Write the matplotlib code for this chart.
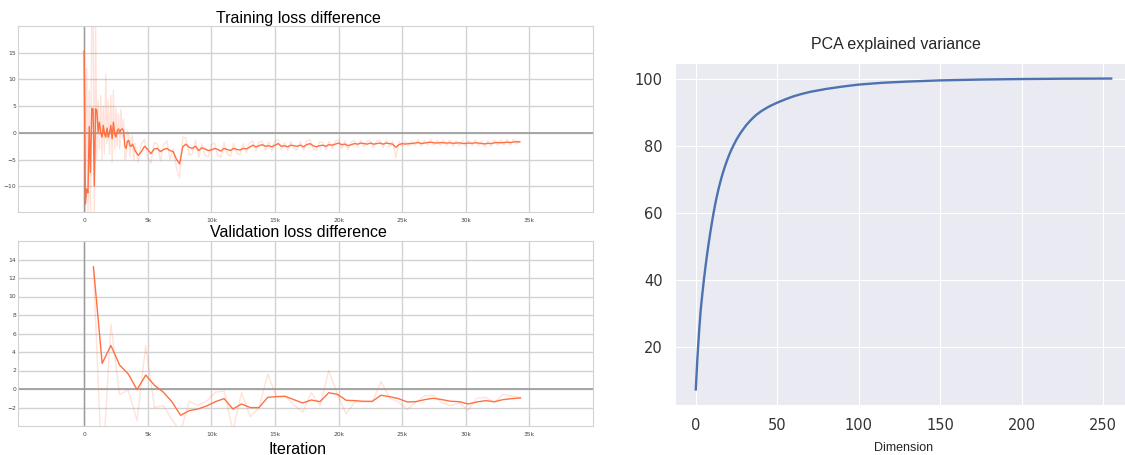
import numpy as np
import matplotlib
matplotlib.use("Agg")
import matplotlib.pyplot as plt
import seaborn as sns

# ---- training loss difference (tensorboard export) ----
train_iter = np.concatenate([np.arange(0, 4001, 100), np.arange(4250, 34251, 250)])

train_smooth = [
    15.3, -13.3, -10.5, -11.2, 1.2, -7.4, 4.6, 4.5, -9.9, 4.5,
    4.2, 0.2, 2.0, 0.1, -0.8, 1.4, -0.2, -0.8, 0.9, -0.8,
    0.1, 1.4, -1.1, 2.0, -0.2, -0.8, 0.4, 0.75, 0.1, 0.6,
    0.75, 0.4, -2.4, -2.9, -1.6, -1.4, -2.4, -2.5, -2.1, -2.7,
    -3.3,
    -4.2, -3.5, -2.5, -3.1, -3.9, -3.0, -2.9, -3.5, -3.1, -2.9,
    -3.3, -3.5, -4.9, -5.8, -2.6, -2.1, -2.7, -2.9, -2.5, -3.3,
    -2.8, -3.0, -3.3, -3.2, -2.9, -3.1, -3.4, -2.9, -3.1, -3.3,
    -2.9, -3.1, -3.2, -2.9, -3.0, -2.7, -2.3, -2.6, -2.4, -2.2,
    -2.5, -2.4, -2.6, -2.3, -2.0, -2.5, -2.4, -2.6, -2.3, -2.4,
    -2.5, -2.3, -2.6, -2.2, -2.0, -2.4, -2.6, -2.4, -2.3, -2.5,
    -2.2, -2.3, -2.1, -1.9, -2.2, -2.1, -2.4, -2.2, -2.0, -2.1,
    -1.9, -2.0, -2.1, -1.9, -2.1, -2.0, -1.9, -2.1, -1.9, -2.0,
    -2.1, -2.7, -2.2, -2.0, -2.1, -2.0, -2.0, -1.9, -1.8, -2.0,
    -1.9, -1.8, -1.75, -1.85, -1.9, -1.8, -1.85, -1.9, -1.85, -1.95,
    -1.9, -1.85, -2.0, -1.95, -1.9, -1.95, -1.85, -1.9, -2.0, -2.05,
    -1.95, -2.0, -1.85, -1.8, -1.85, -1.8, -1.75, -1.8, -1.7, -1.65,
    -1.7,
]

train_raw = [
    15.3, -16, 12, -15, 8, -17, 22, 24, -16, 21,
    -5, 6, -3, 7, -5, 5, -4, 11, -2, 6,
    -4, 7, -5.5, 8, -3, 4.5, -2.5, 3.5, -3, 4.4,
    -1, 2.5, -5, -4.5, 0.5, -0.5, -4.5, -1, -0.5, -5.2,
    -2,
    -5.5, -2.0, -1.2, -4.8, -5.6, -1.8, -2.0, -5.2, -2.2, -1.5,
    -4.9, -3.0, -6.5, -8.4, -0.8, -1.0, -4.2, -3.9, -1.4, -4.6,
    -2.0, -4.1, -4.5, -2.2, -1.9, -4.2, -4.6, -1.8, -3.9, -4.4,
    -2.0, -3.8, -4.1, -2.0, -3.7, -1.9, -1.5, -3.4, -1.7, -1.6,
    -3.3, -1.7, -3.4, -1.5, -1.3, -3.2, -1.8, -3.3, -1.6, -3.0,
    -3.2, -1.6, -3.3, -1.5, -1.2, -3.0, -3.3, -1.7, -1.8, -3.2,
    -1.6, -2.9, -1.5, -1.3, -2.9, -1.5, -3.1, -1.7, -1.4, -2.7,
    -1.4, -2.6, -1.5, -1.4, -2.7, -1.5, -1.4, -2.7, -1.3, -2.6,
    -1.5, -4.7, -1.6, -2.5, -1.5, -2.5, -1.5, -2.4, -1.2, -2.5,
    -1.4, -2.3, -1.2, -2.3, -1.4, -2.3, -1.3, -2.4, -1.3, -2.5,
    -1.4, -2.4, -1.5, -2.5, -1.4, -2.4, -1.3, -2.4, -1.5, -2.6,
    -1.4, -2.5, -1.3, -2.3, -1.3, -2.3, -1.2, -2.3, -1.2, -2.1,
    -1.5,
]

# ---- validation loss difference ----
val_iter = np.linspace(730, 34300, 50)

val_smooth = [
    13.2, 2.77, 4.71, 2.59, 1.62, -0.07, 1.51, 0.40, -0.32, -1.37,
    -2.84, -2.34, -2.16, -1.83, -1.37, -1.04, -2.16, -1.62, -2.01, -2.01,
    -0.90, -0.83, -0.79, -1.15, -1.51, -1.19, -1.37, -0.40, -0.58, -1.22,
    -1.26, -1.33, -1.33, -0.68, -0.83, -1.04, -1.40, -1.37, -1.15, -1.00,
    -1.15, -1.33, -1.37, -1.62, -1.40, -1.26, -1.37, -1.15, -1.04, -0.97,
]

val_raw = [
    13.2, -9.5, 7.0, -0.6, -0.1, -3.4, 4.7, -2.0, -1.8, -3.3,
    -4.6, -1.3, -1.8, -1.3, -0.35, -0.2, -4.5, -0.4, -3.0, -2.0,
    1.6, -0.8, -0.8, -1.7, -2.5, -0.4, -1.8, 2.0, -0.6, -2.7,
    -1.4, -1.4, -1.4, 0.8, -1.0, -1.4, -2.2, -1.4, -0.75, -0.65,
    -1.5, -1.8, -1.5, -2.3, -1.0, -0.9, -1.5, -0.6, -0.75, -0.9,
]

# ---- PCA cumulative explained variance ----
pca_dim = [0, 1, 2, 3, 4, 5, 6, 7, 8, 9, 10, 11, 12, 13, 14, 15, 16, 17, 18, 19,
           20, 21, 22, 23, 25, 27, 29, 31, 33, 35, 37, 40, 43, 46, 50, 55, 60, 65,
           70, 80, 90, 100, 115, 130, 150, 175, 200, 225, 255]
pca_var = [7.2, 16.5, 24.3, 30.8, 35.6, 40.0, 44.0, 47.7, 51.1, 54.3,
           57.3, 60.1, 62.7, 65.0, 67.1, 69.0, 70.8, 72.4, 73.9, 75.3,
           76.6, 77.8, 78.9, 79.9, 81.8, 83.4, 84.8, 86.1, 87.2, 88.2,
           89.1, 90.2, 91.1, 91.9, 92.8, 93.8, 94.7, 95.4, 96.0, 96.9,
           97.6, 98.2, 98.75, 99.1, 99.45, 99.7, 99.85, 99.95, 100.0]

x_ticks = [0, 5000, 10000, 15000, 20000, 25000, 30000, 35000]
x_ticklabels = ["0", "5k", "10k", "15k", "20k", "25k", "30k", "35k"]

orange = "#ff7043"
W, H = 1125, 455

fig = plt.figure(figsize=(11.25, 4.55), dpi=100)


def tb_axes(rect, yticks, ylim):
    ax = fig.add_axes(rect)
    ax.set_xlim(-5200, 40000)
    ax.set_ylim(*ylim)
    ax.set_xticks(x_ticks)
    ax.set_xticklabels(x_ticklabels)
    ax.set_yticks(yticks)
    ax.grid(True, color="#d2d2d2", lw=1.0)
    ax.set_axisbelow(True)
    ax.axhline(0, color="#9a9a9a", lw=1.2, zorder=1)
    ax.axvline(0, color="#9a9a9a", lw=1.0, zorder=1)
    for s in ax.spines.values():
        s.set_color("#d2d2d2")
    ax.tick_params(length=0, labelsize=4.3, labelcolor="#444444")
    ax.tick_params(axis="y", pad=1.5)
    ax.tick_params(axis="x", pad=4)
    return ax


ax1 = tb_axes([18 / W, 1 - 212 / H, 575 / W, 186 / H], [-10, -5, 0, 5, 10, 15], (-14.8, 20))
ax1.plot(train_iter, train_raw, color=orange, alpha=0.2, lw=1)
ax1.plot(train_iter, train_smooth, color=orange, lw=1)

ax2 = tb_axes([18 / W, 1 - 426 / H, 575 / W, 185 / H], [-2, 0, 2, 4, 6, 8, 10, 12, 14], (-4, 16))
ax2.plot(val_iter, val_raw, color=orange, alpha=0.2, lw=1)
ax2.plot(val_iter, val_smooth, color=orange, lw=1)

fig.text(298 / W, 1 - 18 / H, "Training loss difference", ha="center", va="center",
         fontsize=11.5, family="Liberation Sans")
fig.text(298 / W, 1 - 233 / H, "Validation loss difference", ha="center", va="center",
         fontsize=11.5, family="Liberation Sans")
fig.text(298 / W, 1 - 449 / H, "Iteration", ha="center", va="center",
         fontsize=11.5, family="Liberation Sans")

with sns.axes_style("darkgrid"):
    ax3 = fig.add_axes([675 / W, 1 - 405 / H, 457 / W, 342 / H])
ax3.plot(pca_dim, pca_var, color="#4c72b0", lw=1.7)
ax3.set_xticks([0, 50, 100, 150, 200, 250])
ax3.set_yticks([20, 40, 60, 80, 100])
ax3.tick_params(length=0, labelsize=10.5, labelcolor="#333333", pad=9)
ax3.set_title("PCA explained variance", fontsize=11.5, x=0.483, pad=10,
              family="Liberation Sans")
ax3.set_xlabel("Dimension", fontsize=9, labelpad=7, family="Liberation Sans")

fig.savefig("out.png", dpi=100)
